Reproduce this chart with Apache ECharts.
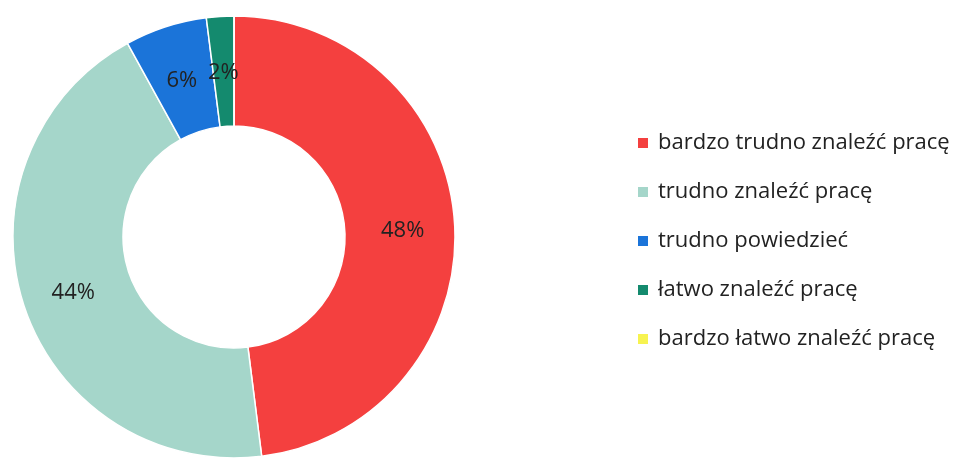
<!DOCTYPE html>
<html>
<head>
<meta charset="utf-8">
<script src="https://cdn.jsdelivr.net/npm/echarts@6/dist/echarts.min.js"></script>
<style>
html,body{margin:0;padding:0;background:#fff;}
#chart{width:968px;height:458px;}
</style>
</head>
<body>
<div id="chart"></div>
<script>
const categories = ['bardzo trudno znaleźć pracę', 'trudno znaleźć pracę', 'trudno powiedzieć', 'łatwo znaleźć pracę', 'bardzo łatwo znaleźć pracę'];
const values = [48, 44, 6, 2, 0];
const colors = ['#F4403F', '#A5D6CA', '#1B74D9', '#148A6E', '#F7F350'];

const chart = echarts.init(document.getElementById('chart'), null, {renderer: 'canvas'});
const data = categories.map((name, i) => ({
  name: name,
  value: values[i],
  itemStyle: {color: colors[i]},
  label: {show: values[i] > 0}
}));

chart.setOption({
  animation: false,
  backgroundColor: '#ffffff',
  legend: {
    orient: 'vertical',
    left: 631,
    top: 127,
    itemWidth: 12,
    itemHeight: 12,
    itemGap: 27,
    icon: 'rect',
    textStyle: {
      fontFamily: 'Open Sans',
      fontSize: 22,
      lineHeight: 22,
      color: '#222222',
      padding: [0, 0, 0, 4]
    },
    data: categories
  },
  series: [{
    type: 'pie',
    center: [234, 237],
    radius: [111, 221],
    startAngle: 90,
    clockwise: true,
    avoidLabelOverlap: false,
    itemStyle: {borderColor: '#ffffff', borderWidth: 1.5},
    label: {
      show: true,
      position: 'inside',
      formatter: '{c}%',
      fontFamily: 'Open Sans',
      fontSize: 22,
      color: '#222222',
      offset: [0, 4]
    },
    labelLine: {show: false},
    emphasis: {disabled: true},
    data: data
  }]
});
</script>
</body>
</html>
